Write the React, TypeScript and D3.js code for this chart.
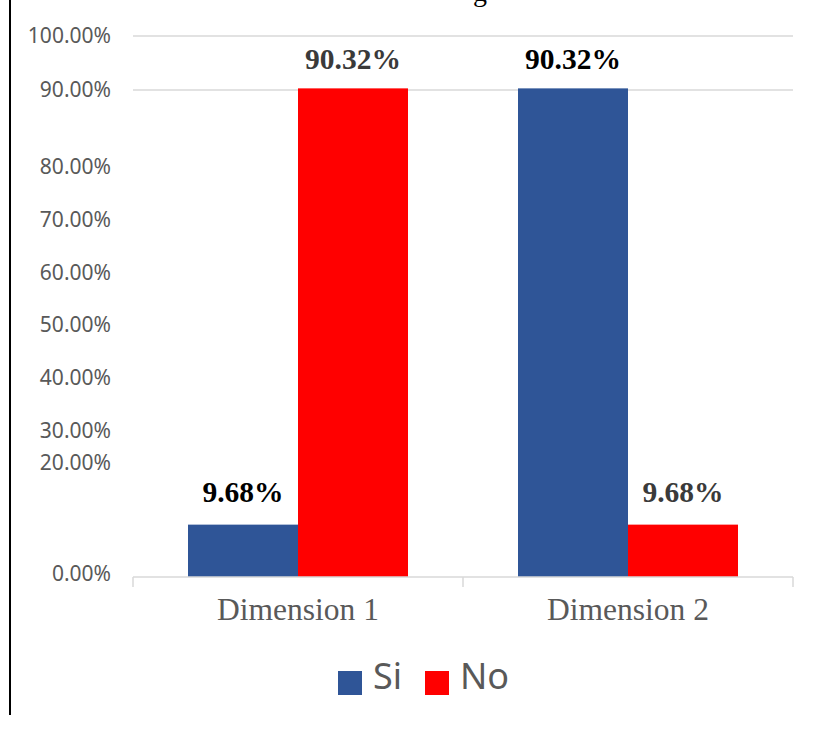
import React from "react";
import * as d3 from "d3";

const categories = ["Dimension 1", "Dimension 2"];
const seriesNames = ["Si", "No"];
const siValues = [0.0968, 0.9032];
const noValues = [0.9032, 0.0968];
const valueLabels = [["9.68%", "90.32%"], ["90.32%", "9.68%"]];
const labelColors = [["#000000", "#3a3a3a"], ["#000000", "#3a3a3a"]];
const seriesColors = ["#2F5597", "#FF0000"];
const tickLabels = ["0.00%", "20.00%", "30.00%", "40.00%", "50.00%", "60.00%", "70.00%", "80.00%", "90.00%", "100.00%"];
const tickLabelAt = [0.007, 0.211, 0.27, 0.368, 0.466, 0.563, 0.661, 0.759, 0.9, 1.0];
const gridValues = [0.9, 1.0];

export default function App() {
  const W = 816, H = 729;
  const left = 133, right = 793, top = 36, bottom = 577;
  const y = d3.scaleLinear().domain([0, 1]).range([bottom, top]);
  const x0 = d3.scaleBand().domain(categories).range([left, right]).padding(0);
  const x1 = d3.scaleBand().domain(seriesNames).range([0, x0.bandwidth()]).paddingInner(0).paddingOuter(0.5);
  const values = [siValues, noValues];
  const sans = "'Noto Sans', 'Open Sans', sans-serif";
  const serif = "'Liberation Serif', 'Times New Roman', serif";
  const tickXs = [left, ...categories.map((c) => (x0(c) as number) + x0.bandwidth())];

  return (
    <svg width={W} height={H} style={{ position: "absolute", left: 0, top: 0, background: "#fff" }}>
      <rect x={0} y={0} width={W} height={H} fill="#fff" />
      <text x={480} y={1} fontFamily={serif} fontSize={28} textAnchor="middle" fill="#000">g</text>
      <line x1={10} x2={10} y1={0} y2={715} stroke="#000" strokeWidth={2} />
      {gridValues.map((g) => (
        <line key={g} x1={left} x2={right} y1={y(g)} y2={y(g)} stroke="#d9d9d9" strokeWidth={1.5} />
      ))}
      {tickLabels.map((t, i) => (
        <text key={t} x={111} y={y(tickLabelAt[i])} dy="0.35em" textAnchor="end" fontFamily={sans} fontSize={21} fill="#595959">{t}</text>
      ))}
      {categories.map((c, ci) =>
        seriesNames.map((s, si) => {
          const v = values[si][ci];
          const bx = (x0(c) as number) + (x1(s) as number);
          return (
            <g key={c + s}>
              <rect x={bx} y={y(v)} width={x1.bandwidth()} height={y(0) - y(v)} fill={seriesColors[si]} />
              <text x={bx + x1.bandwidth() / 2} y={y(v) - (v > 0.5 ? 19 : 23)} textAnchor="middle" fontFamily={serif} fontWeight="bold" fontSize={29.5} fill={labelColors[ci][si]}>{valueLabels[ci][si]}</text>
            </g>
          );
        })
      )}
      <line x1={left} x2={right} y1={bottom} y2={bottom} stroke="#d9d9d9" strokeWidth={1.5} />
      {tickXs.map((tx, i) => (
        <line key={i} x1={tx} x2={tx} y1={bottom} y2={bottom + 10} stroke="#d9d9d9" strokeWidth={1.5} />
      ))}
      {categories.map((c) => (
        <text key={c} x={(x0(c) as number) + x0.bandwidth() / 2} y={620} textAnchor="middle" fontFamily={serif} fontSize={31.5} fill="#595959">{c}</text>
      ))}
      {seriesNames.map((s, i) => {
        const lx = [338, 425][i];
        return (
          <g key={s}>
            <rect x={lx} y={671} width={24} height={24} fill={seriesColors[i]} />
            <text x={lx + 35} y={689} fontFamily={sans} fontSize={36} fill="#595959">{s}</text>
          </g>
        );
      })}
    </svg>
  );
}
